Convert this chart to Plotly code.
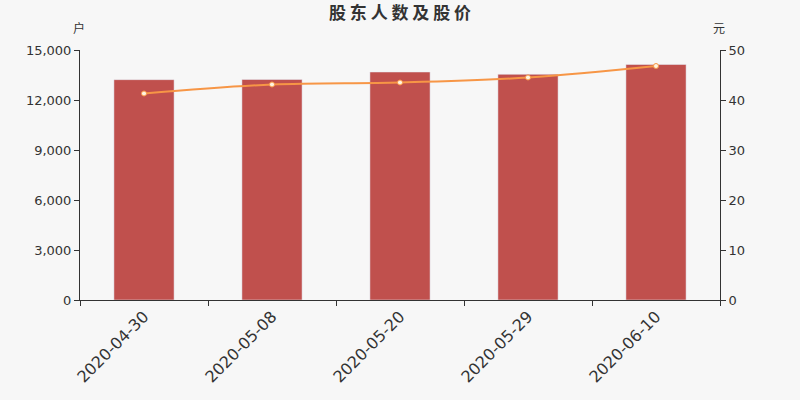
import plotly.graph_objects as go

## data
dates = ["2020-04-30", "2020-05-08", "2020-05-20", "2020-05-29", "2020-06-10"]
holders = [13220, 13230, 13680, 13540, 14130]
price = [41.3, 43.1, 43.5, 44.5, 46.8]

fig = go.Figure()

## shareholder count bars on the left axis
fig.add_trace(go.Bar(x=dates, y=holders, name="股东户数", marker_color="#c0504d", width=0.47, yaxis="y"))

## share price line on the right axis
fig.add_trace(go.Scatter(x=dates, y=price, name="股价", mode="lines+markers", yaxis="y2",
                         line=dict(color="#f79646", width=2, shape="spline"),
                         marker=dict(size=5, color="#fff5e0", line=dict(color="#f79646", width=1))))

fig.update_layout(
    width=800, height=400,
    margin=dict(l=80, r=80, t=50, b=100),
    paper_bgcolor="#f7f7f7", plot_bgcolor="#f7f7f7",
    font=dict(family="Noto Sans CJK SC, DejaVu Sans", color="#333"),
    showlegend=False,
    title=dict(text="<b>股 东 人 数 及 股 价</b>", x=0.5, xanchor="center", y=0.967, yanchor="middle",
               font=dict(size=17, color="#333")),
    xaxis=dict(type="category", showline=True, linecolor="#333", ticks="outside", ticklen=5, tickcolor="#333",
               tickson="boundaries", tickangle=-45, tickfont=dict(size=16, family="DejaVu Sans"), showgrid=False),
    yaxis=dict(range=[0, 15000], tickvals=[0, 3000, 6000, 9000, 12000, 15000], tickformat=",",
               showline=True, linecolor="#333", ticks="outside", ticklen=5, tickcolor="#333",
               showgrid=False, zeroline=False, tickfont=dict(size=13, family="DejaVu Sans")),
    yaxis2=dict(range=[0, 50], tickvals=[0, 10, 20, 30, 40, 50], overlaying="y", side="right",
                showline=True, linecolor="#333", ticks="outside", ticklen=5, tickcolor="#333",
                showgrid=False, zeroline=False, tickfont=dict(size=13, family="DejaVu Sans")),
)

## unit labels above each axis
fig.add_annotation(text="户", x=0, xref="paper", xanchor="right", xshift=7, y=1, yref="paper",
                   yanchor="bottom", yshift=12, showarrow=False, font=dict(size=12))
fig.add_annotation(text="元", x=1, xref="paper", xanchor="left", xshift=-9, y=1, yref="paper",
                   yanchor="bottom", yshift=12, showarrow=False, font=dict(size=12))

## drop the page's default body margin so the chart fills the window
fig.write_html("out.html", config={"displayModeBar": False},
               post_script="document.body.style.margin='0';")
